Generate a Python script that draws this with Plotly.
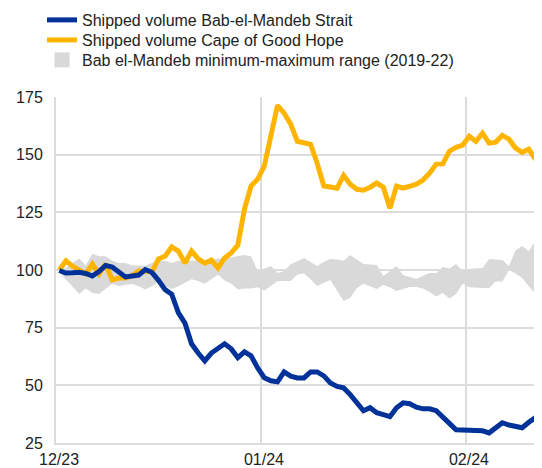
import pandas as pd
import plotly.graph_objects as go

# Daily observations (points sit at mid-day), 1 Dec 2023 – 12 Feb 2024
dates = pd.date_range("2023-12-01 12:00", periods=73, freq="D")

bab_el_mandeb = [
    99.8, 98.7, 98.8, 99.0, 98.5, 97.4, 99.3, 102.0, 101.3, 99.0,
    97.0, 97.4, 97.8, 100.2, 99.0, 95.5, 91.5, 89.5, 81.5, 77.0,
    68.0, 64.0, 60.6, 64.0, 65.8, 68.0, 65.8, 62.0, 64.5, 62.8,
    57.5, 53.3, 52.0, 51.5, 55.8, 54.0, 53.2, 53.2, 55.8, 55.8,
    54.1, 51.0, 49.5, 48.9, 46.0, 42.5, 39.0, 40.3, 38.1, 37.3,
    36.4, 40.3, 42.4, 42.0, 40.5, 39.8, 39.8, 39.0, 36.5, 33.5,
    30.7, 30.7, 30.7, 30.5, 30.3, 29.4, 31.5, 33.8, 32.8, 32.2,
    31.6, 34.0, 36.0,
]

cape_good_hope = [
    100.0, 104.0, 101.7, 100.0, 98.3, 102.6, 98.3, 102.6, 95.7, 96.5,
    96.5, 97.5, 99.6, 99.5, 99.0, 104.8, 106.0, 110.0, 108.2, 103.0,
    108.2, 104.8, 103.0, 104.3, 100.9, 105.2, 107.4, 110.8, 126.4, 136.4,
    139.4, 145.0, 158.9, 171.4, 168.0, 163.2, 155.8, 155.0, 154.5, 146.3,
    136.4, 136.0, 135.5, 141.0, 137.2, 135.0, 134.6, 135.9, 137.7, 135.9,
    126.8, 136.4, 135.5, 136.3, 137.2, 139.0, 142.0, 145.9, 146.0, 151.5,
    153.2, 154.1, 158.0, 155.8, 159.3, 155.0, 155.4, 158.4, 156.7, 152.8,
    151.0, 152.4, 148.0,
]

range_max = [
    100.0, 101.0, 103.0, 105.0, 102.0, 107.0, 106.0, 106.0, 104.0, 103.0,
    103.0, 102.0, 102.0, 102.0, 103.0, 104.0, 104.0, 103.0, 104.0, 104.0,
    104.0, 104.0, 104.0, 104.5, 105.0, 105.0, 105.5, 106.0, 106.5, 106.0,
    99.6, 100.5, 101.7, 98.7, 99.6, 102.5, 104.0, 105.2, 103.5, 101.7,
    103.5, 104.8, 104.5, 104.0, 106.5, 104.5, 102.6, 102.4, 102.2, 97.4,
    99.5, 101.7, 97.8, 97.0, 96.1, 97.5, 98.7, 98.7, 101.3, 100.6,
    102.6, 99.6, 100.4, 100.6, 100.9, 104.8, 104.5, 104.3, 101.7, 108.5,
    110.4, 108.2, 112.6,
]

range_min = [
    99.0, 96.0, 93.0, 89.6, 92.0, 90.0, 89.6, 92.0, 94.0, 93.0,
    93.5, 94.0, 93.0, 91.5, 93.0, 95.0, 93.0, 91.8, 93.0, 94.5,
    96.0, 95.2, 94.0, 96.0, 98.0, 95.5, 94.0, 91.5, 92.0, 92.0,
    92.5, 91.0, 93.0, 95.2, 95.2, 95.2, 98.0, 98.5, 96.0, 93.0,
    94.5, 95.7, 91.0, 86.6, 88.0, 92.2, 94.0, 93.0, 91.8, 93.5,
    92.5, 90.9, 91.8, 92.6, 92.6, 92.0, 90.5, 88.5, 90.0, 87.6,
    89.6, 94.0, 92.5, 92.2, 92.2, 92.2, 95.0, 95.0, 100.0, 98.5,
    96.5, 93.0, 89.6,
]

tick_dates = ["2023-12-01", "2024-01-01", "2024-02-01"]
tick_labels = ["12/23", "01/24", "02/24"]
y_ticks = [25, 50, 75, 100, 125, 150, 175]

BLUE = "#003299"
ORANGE = "#FFB400"
GREY = "#D9D9D9"
FONT = "Liberation Sans, Arial, sans-serif"
TXT = "#222222"

fig = go.Figure()

fig.add_trace(go.Scatter(
    x=dates, y=range_min, mode="lines", line=dict(width=0, color=GREY),
    showlegend=False, hoverinfo="skip",
))
fig.add_trace(go.Scatter(
    x=dates, y=range_max, mode="lines", line=dict(width=0, color=GREY),
    fill="tonexty", fillcolor=GREY, showlegend=False, hoverinfo="skip",
))
# legend entry for the range, shown as a grey square
fig.add_trace(go.Scatter(
    x=[None], y=[None], mode="markers",
    marker=dict(symbol="square", size=15, color=GREY),
    name="Bab el-Mandeb minimum-maximum range (2019-22)", legend="legend3",
))
fig.add_trace(go.Scatter(
    x=dates, y=cape_good_hope, mode="lines",
    line=dict(width=5, color=ORANGE),
    name="Shipped volume Cape of Good Hope", legend="legend2",
))
fig.add_trace(go.Scatter(
    x=dates, y=bab_el_mandeb, mode="lines",
    line=dict(width=5, color=BLUE),
    name="Shipped volume Bab-el-Mandeb Strait", legend="legend",
))

legend_common = dict(
    xref="container", yref="container", x=0.0637,
    xanchor="left", yanchor="middle",
    font=dict(size=16, color=TXT, family=FONT),
    itemwidth=30, bgcolor="rgba(0,0,0,0)",
)

fig.update_layout(
    width=534, height=468,
    margin=dict(l=48, r=0, t=89, b=33, autoexpand=False),
    paper_bgcolor="white", plot_bgcolor="white",
    font=dict(family=FONT, size=16, color=TXT),
    legend=dict(**legend_common, y=0.9744),
    legend2=dict(**legend_common, y=0.9316),
    legend3=dict(**legend_common, y=0.8889),
    showlegend=True,
)

fig.update_xaxes(
    range=["2023-12-01", "2024-02-12 12:00"],
    tickmode="array", tickvals=tick_dates, ticktext=tick_labels,
    showgrid=True, gridcolor="#DCDCDC", gridwidth=1.5,
    showline=True, linecolor="#DCDCDC", linewidth=2,
    ticks="", tickangle=0, ticklabelstandoff=1, ticklabelshift=3,
    tickfont=dict(size=16, color=TXT),
    zeroline=False,
)
fig.update_yaxes(
    range=[25, 175], tickmode="array", tickvals=y_ticks,
    showgrid=True, gridcolor="#DCDCDC", gridwidth=1.5,
    showline=True, linecolor="#DCDCDC", linewidth=2,
    ticks="", ticklabelstandoff=8, tickfont=dict(size=16, color=TXT),
    zeroline=False,
)

fig.write_html("out.html")
